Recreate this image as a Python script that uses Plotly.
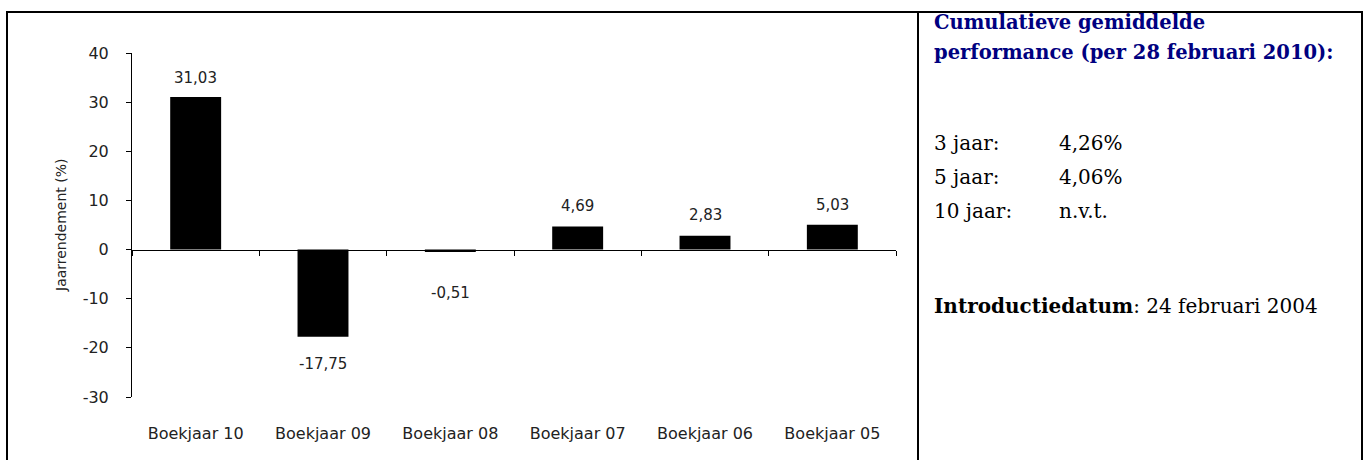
import plotly.graph_objects as go

# ---- data ----
categories = ["Boekjaar 10", "Boekjaar 09", "Boekjaar 08", "Boekjaar 07", "Boekjaar 06", "Boekjaar 05"]
returns = [31.03, -17.75, -0.51, 4.69, 2.83, 5.03]
label_texts = ["31,03", "-17,75", "-0,51", "4,69", "2,83", "5,03"]
y_ticks = [-30, -20, -10, 0, 10, 20, 30, 40]
y_tick_labels = ["-30", "-20", "-10", "0", "10", "20", "30", "40"]

panel_title = ["Cumulatieve gemiddelde", "performance (per 28 februari 2010):"]
period_labels = ["3 jaar:", "5 jaar:", "10 jaar:"]
period_values = ["4,26%", "4,06%", "n.v.t."]
intro_label = "Introductiedatum"
intro_value = ": 24 februari 2004"

# ---- layout helpers (pixel -> paper, margins are zero) ----
W, H = 1365, 460
def px(x):
    return x / W
def py(y):
    return 1 - y / H

YMIN, YMAX = -30, 40
ydom = [py(397), py(53)]
zero_pos = ydom[0] + (0 - YMIN) / (YMAX - YMIN) * (ydom[1] - ydom[0])

# per-label vertical offsets (px) from bar end
label_offsets = [19, -27, -41, 21, 21, 20]

fig = go.Figure()
fig.add_trace(go.Bar(x=categories, y=returns, marker=dict(color="black", line=dict(width=0)),
                     xaxis="x2", yaxis="y", hoverinfo="skip", showlegend=False))
fig.add_trace(go.Scatter(x=categories, y=[0]*len(categories), mode="markers",
                         marker=dict(opacity=0), xaxis="x", yaxis="y",
                         hoverinfo="skip", showlegend=False))

chart_font = "DejaVu Sans"
text_col = "#222222"

annotations = []
for c, v, t, off in zip(categories, returns, label_texts, label_offsets):
    annotations.append(dict(x=c, y=v, xref="x2", yref="y", text=t, showarrow=False,
                            yshift=off, font=dict(family=chart_font, size=15, color=text_col)))

annotations.append(dict(x=px(51), y=(ydom[0] + ydom[1]) / 2, xref="paper", yref="paper",
                        text="Jaarrendement (%)", textangle=-90, showarrow=False,
                        font=dict(family=chart_font, size=14, color=text_col)))

serif = "DejaVu Serif"
navy = "#000080"
TSHIFT = -9
for i, line in enumerate(panel_title):
    annotations.append(dict(x=px(932), y=py(27 + 30 * i), xref="paper", yref="paper",
                            xanchor="left", yanchor="bottom", yshift=TSHIFT,
                            text="<b>" + line + "</b>", showarrow=False,
                            font=dict(family=serif, size=19.5, color=navy)))
for i, (lab, val) in enumerate(zip(period_labels, period_values)):
    yy = py(148 + 34 * i)
    annotations.append(dict(x=px(932), y=yy, xref="paper", yref="paper", xanchor="left",
                            yanchor="bottom", yshift=TSHIFT, text=lab, showarrow=False,
                            font=dict(family=serif, size=20, color="black")))
    annotations.append(dict(x=px(1057), y=yy, xref="paper", yref="paper", xanchor="left",
                            yanchor="bottom", yshift=TSHIFT, text=val, showarrow=False,
                            font=dict(family=serif, size=20, color="black")))
annotations.append(dict(x=px(932), y=py(311), xref="paper", yref="paper", xanchor="left",
                        yanchor="bottom", yshift=TSHIFT,
                        text="<b>" + intro_label + "</b>" + intro_value, showarrow=False,
                        font=dict(family=serif, size=20, color="black")))

shapes = [
    dict(type="line", xref="paper", yref="paper", x0=px(6), x1=px(1363), y0=py(12), y1=py(12),
         line=dict(color="black", width=2)),
    dict(type="line", xref="paper", yref="paper", x0=px(7), x1=px(7), y0=py(11), y1=0,
         line=dict(color="black", width=2)),
    dict(type="line", xref="paper", yref="paper", x0=px(918), x1=px(918), y0=py(11), y1=0,
         line=dict(color="black", width=2)),
    dict(type="line", xref="paper", yref="paper", x0=px(1362), x1=px(1362), y0=py(11), y1=0,
         line=dict(color="black", width=2)),
]

fig.update_layout(
    width=W, height=H,
    margin=dict(l=0, r=0, t=0, b=0, autoexpand=False),
    paper_bgcolor="white", plot_bgcolor="white",
    bargap=0.6,
    showlegend=False,
    xaxis=dict(domain=[px(132), px(896)], anchor="y", showline=False, ticks="",
               showgrid=False, zeroline=False, type="category", automargin=False,
               tickfont=dict(family=chart_font, size=16, color=text_col),
               ticklabelstandoff=25),
    xaxis2=dict(domain=[px(132), px(896)], overlaying="x", matches="x", anchor="free",
                position=zero_pos, side="bottom", type="category", automargin=False,
                showline=True, linecolor="black", linewidth=1,
                ticks="outside", ticklen=5, tickcolor="black", tickson="boundaries",
                showticklabels=False, showgrid=False, zeroline=False),
    yaxis=dict(domain=ydom, range=[YMIN, YMAX], tickvals=y_ticks, ticktext=y_tick_labels,
               showgrid=False, zeroline=False, showline=True, linecolor="black", linewidth=1,
               ticks="outside", ticklen=5, tickcolor="black", automargin=False,
               tickfont=dict(family=chart_font, size=16, color=text_col),
               ticklabelstandoff=14),
    annotations=annotations,
    shapes=shapes,
)

fig.write_html("out.html", config={"displayModeBar": False},
               post_script="document.body.style.margin='0';document.body.style.overflow='hidden';")
